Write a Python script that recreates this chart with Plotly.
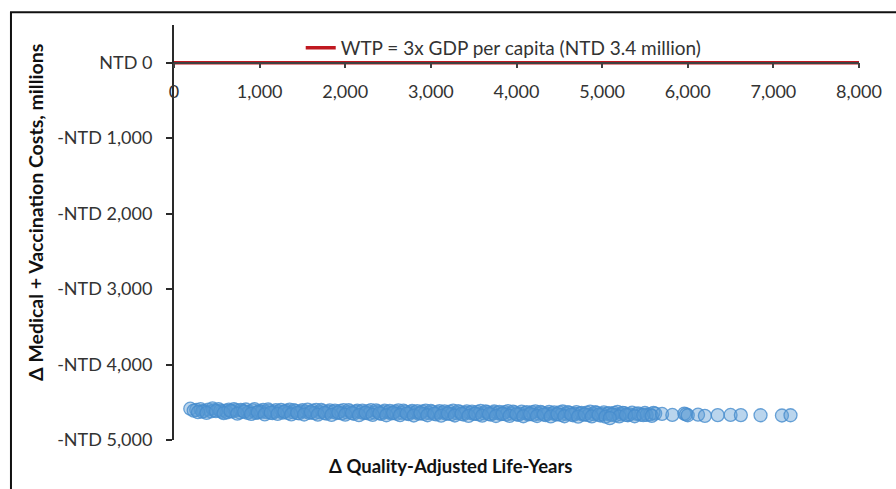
import plotly.graph_objects as go

# Incremental QALYs and incremental costs (NTD millions) per simulation
qaly = [
    190, 260, 310, 350, 400, 430, 470, 520, 560, 600, 640, 680, 720, 770, 800, 840,
    880, 920, 960, 1000, 1040, 1080, 1110, 1150, 1190, 1230, 1270, 1310, 1350, 1390,
    1420, 1460, 1500, 1540, 1580, 1620, 1660, 1700, 1740, 1780, 1820, 1860, 1900,
    1940, 1980, 2020, 2060, 2100, 2140, 2180, 2220, 2260, 2300, 2340, 2380, 2420,
    2460, 2500, 2540, 2580, 2620, 2660, 2700, 2740, 2780, 2820, 2860, 2900, 2940,
    2980, 3020, 3060, 3100, 3140, 3180, 3220, 3260, 3300, 3340, 3380, 3420, 3460,
    3500, 3540, 3580, 3620, 3660, 3700, 3740, 3780, 3820, 3860, 3900, 3940, 3980,
    4020, 4060, 4100, 4140, 4180, 4220, 4260, 4300, 4340, 4380, 4420, 4460, 4500,
    4540, 4580, 4620, 4660, 4700, 4740, 4780, 4820, 4860, 4900, 4940, 4980, 5020,
    5060, 5100, 5140, 5180, 5220, 5260, 5300, 5350, 5400, 5450, 5500, 5560, 5620,
    230, 330, 450, 540, 620, 700, 780, 860, 940, 1020, 1100, 1170, 1250, 1330, 1400,
    1480, 1560, 1640, 1720, 1800, 1880, 1960, 2040, 2120, 2200, 2280, 2360, 2440,
    2520, 2600, 2680, 2760, 2840, 2920, 3000, 3080, 3160, 3240, 3320, 3400, 3480,
    3560, 3640, 3720, 3800, 3880, 3960, 4040, 4120, 4200, 4280, 4360, 4440, 4520,
    4600, 4680, 4760, 4840, 4920, 5000, 5080, 5160, 5240, 5320, 5420, 5520, 5600,
    280, 380, 490, 580, 660, 740, 820, 900, 980, 1060, 1130, 1210, 1290, 1370, 1440,
    1520, 1600, 1680, 1760, 1840, 1920, 2000, 2080, 2160, 2240, 2320, 2400, 2480,
    2560, 2640, 2720, 2800, 2880, 2960, 3040, 3120, 3200, 3280, 3360, 3440, 3520,
    3600, 3680, 3760, 3840, 3920, 4000, 4080, 4160, 4240, 4320, 4400, 4480, 4560,
    4640, 4720, 4800, 4880, 4960, 5040, 5120, 5200, 5280, 5380, 5480, 5580,
    5090, 5700, 5820, 5960, 5980, 6000, 6120, 6200, 6350, 6500, 6620, 6850, 7100, 7200,
]
cost = [
    -4585, -4600, -4592, -4615, -4598, -4620, -4605, -4590, -4628, -4610, -4598, -4622,
    -4606, -4635, -4612, -4596, -4625, -4608, -4640, -4615, -4600, -4630, -4612, -4645,
    -4603, -4620, -4637, -4610, -4598, -4630, -4615, -4648, -4605, -4625, -4640, -4612,
    -4600, -4632, -4618, -4650, -4608, -4628, -4642, -4615, -4603, -4635, -4620, -4652,
    -4610, -4630, -4645, -4618, -4605, -4638, -4622, -4655, -4612, -4632, -4648, -4620,
    -4608, -4640, -4625, -4658, -4615, -4635, -4650, -4622, -4610, -4642, -4628, -4660,
    -4618, -4638, -4652, -4625, -4612, -4645, -4630, -4662, -4620, -4640, -4655, -4628,
    -4615, -4648, -4632, -4665, -4622, -4642, -4658, -4630, -4618, -4650, -4635, -4668,
    -4625, -4645, -4660, -4632, -4620, -4652, -4638, -4670, -4628, -4648, -4662, -4635,
    -4622, -4655, -4640, -4672, -4630, -4650, -4665, -4638, -4625, -4658, -4642, -4675,
    -4635, -4652, -4668, -4640, -4628, -4660, -4645, -4672, -4638, -4655, -4665, -4642,
    -4660, -4650,
    -4610, -4625, -4582, -4612, -4635, -4590, -4600, -4640, -4590, -4628, -4595, -4625,
    -4600, -4642, -4605, -4622, -4598, -4645, -4602, -4625, -4610, -4648, -4605, -4625,
    -4612, -4650, -4608, -4630, -4615, -4652, -4612, -4632, -4618, -4655, -4615, -4635,
    -4620, -4658, -4618, -4640, -4625, -4660, -4622, -4645, -4628, -4662, -4625, -4650,
    -4632, -4665, -4628, -4652, -4635, -4668, -4630, -4655, -4640, -4670, -4632, -4658,
    -4645, -4672, -4640, -4660, -4648, -4668, -4640,
    -4630, -4640, -4618, -4645, -4615, -4650, -4625, -4655, -4632, -4660, -4638, -4655,
    -4625, -4660, -4640, -4662, -4630, -4665, -4640, -4668, -4635, -4665, -4642, -4670,
    -4638, -4668, -4645, -4672, -4640, -4670, -4648, -4675, -4645, -4672, -4650, -4678,
    -4648, -4675, -4652, -4680, -4650, -4678, -4655, -4682, -4652, -4680, -4658, -4685,
    -4655, -4682, -4660, -4688, -4658, -4685, -4662, -4690, -4660, -4688, -4665, -4690,
    -4662, -4688, -4668, -4685, -4670, -4680,
    -4710, -4655, -4668, -4650, -4660, -4672, -4665, -4680, -4670, -4668, -4670, -4672,
    -4675, -4672,
]

# Willingness-to-pay threshold line
wtp_x = [0, 8000]
wtp_y = [0, 0]
wtp_label = "WTP = 3x GDP per capita (NTD 3.4 million)"

x_ticks = [0, 1000, 2000, 3000, 4000, 5000, 6000, 7000, 8000]
x_tick_text = ["0", "1,000", "2,000", "3,000", "4,000", "5,000", "6,000", "7,000", "8,000"]
y_ticks = [0, -1000, -2000, -3000, -4000, -5000]
y_tick_text = ["NTD 0", "-NTD 1,000", "-NTD 2,000", "-NTD 3,000", "-NTD 4,000", "-NTD 5,000"]

FONT = "Lato"
TXT = "#333333"

fig = go.Figure()

fig.add_trace(go.Scatter(
    x=qaly, y=cost, mode="markers", showlegend=False,
    marker=dict(size=13, color="rgba(91,155,213,0.42)",
                line=dict(color="rgba(70,140,205,0.8)", width=1.3)),
))

fig.add_trace(go.Scatter(
    x=wtp_x, y=wtp_y, mode="lines", name=wtp_label,
    line=dict(color="#C01820", width=3.5),
))

fig.update_layout(
    width=896, height=489,
    margin=dict(l=174, r=37, t=25, b=49),
    paper_bgcolor="white", plot_bgcolor="white",
    font=dict(family=FONT, size=18, color=TXT),
    legend=dict(x=0.185, y=0.945, xanchor="left", yanchor="middle",
                bgcolor="rgba(0,0,0,0)", font=dict(size=19, color=TXT)),
    xaxis=dict(
        range=[0, 8000], tickvals=x_ticks, ticktext=x_tick_text,
        showgrid=False, zeroline=False,
        showline=True, linecolor="#404040", linewidth=1.5,
        ticks="outside", ticklen=5, tickcolor="#404040", tickwidth=1.5,
        anchor="free", position=5000 / 5500, ticklabelstandoff=8,
        tickfont=dict(size=18, color=TXT),
    ),
    yaxis=dict(
        range=[-5000, 500], tickvals=y_ticks, ticktext=y_tick_text,
        showgrid=False, zeroline=False,
        showline=True, linecolor="#2a2a2a", linewidth=2,
        ticks="outside", ticklen=6, tickcolor="#2a2a2a", tickwidth=1.5,
        ticklabelstandoff=10,
        tickfont=dict(size=18, color=TXT),
    ),
    shapes=[dict(type="rect", xref="paper", yref="paper",
                 x0=-0.238, x1=1.2, y0=-0.3, y1=1.031,
                 line=dict(color="#111111", width=2), fillcolor="rgba(0,0,0,0)")],
    annotations=[
        dict(text="<b>Δ Quality-Adjusted Life-Years</b>", xref="paper", yref="paper",
             x=(450 - 174) / 685, y=-0.063, xanchor="center", yanchor="middle",
             showarrow=False, font=dict(size=18.5, color="#111111", family=FONT)),
        dict(text="<b>Δ Medical + Vaccination Costs, millions</b>", xref="paper", yref="paper",
             x=-0.203, y=(440 - 212) / 415, xanchor="center", yanchor="middle",
             showarrow=False, textangle=-90,
             font=dict(size=19.5, color="#111111", family=FONT)),
    ],
)

fig.write_html("out.html")
